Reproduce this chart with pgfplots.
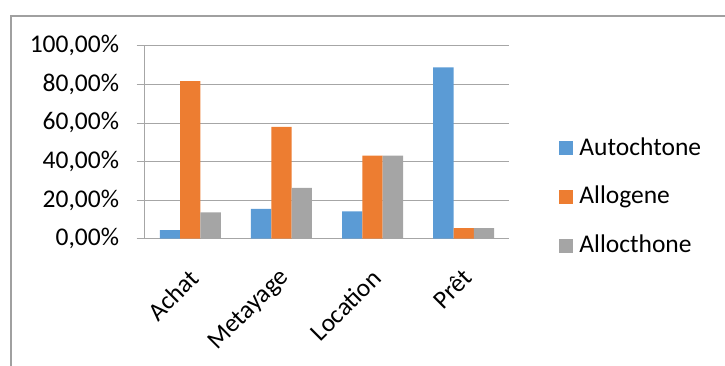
\documentclass[border=0pt]{standalone}
\usepackage{fontspec}
\setmainfont{Carlito}
\usepackage{pgfplots}
\pgfplotsset{compat=1.18}
\definecolor{cBlue}{HTML}{5B9BD5}
\definecolor{cOrange}{HTML}{ED7D31}
\definecolor{cGray}{HTML}{A5A5A5}
\definecolor{gridc}{HTML}{A6A6A6}
\definecolor{framec}{HTML}{A0A0A0}
\begin{document}
\fontsize{25.5}{30}\selectfont
\begin{tikzpicture}[x=1pt,y=1pt]
\useasboundingbox (0,0) rectangle (725,-365);
\draw[framec,line width=1.2pt] (11,-366) -- (11,-16) -- (726,-16);
\begin{axis}[
  at={(144.7pt,-238.7pt)}, anchor=south west,
  scale only axis, width=364.6pt, height=193pt,
  xmin=-0.5, xmax=3.5, ymin=0, ymax=100,
  axis lines*=left,
  axis line style={gridc, line width=0.8pt},
  ytick={0,20,40,60,80,100},
  ymajorgrids, grid style={gridc, line width=0.8pt},
  major tick style={gridc, line width=0.8pt},
  tick align=outside, major tick length=8pt,
  /pgf/number format/assume math mode=true,
  yticklabel={\pgfmathprintnumber[fixed,fixed zerofill,precision=2,use comma]{\tick}\%},
  yticklabel style={font=\fontsize{25.5}{30}\selectfont, xshift=-9pt},
  xtick={0,1,2,3},
  xticklabels={Achat,Metayage,Location,Prêt},
  x tick style={draw=none},
  xticklabel style={font=\fontsize{25.5}{30}\selectfont, xshift=10pt, yshift=-21pt, rotate=45, anchor=east},
  extra x ticks={-0.5,0.5,1.5,2.5,3.5},
  extra x tick labels={},
  extra x tick style={major tick length=8pt, tick style={gridc, line width=0.8pt}, grid=none},
  bar width=0.223,
  legend style={at={(1.137,0.216)}, anchor=west, draw=none, fill=none,
    font=\fontsize{25.5}{30}\selectfont, row sep=23pt, inner sep=0pt,
    nodes={inner sep=2pt}},
  legend cell align=left,
  legend image code/.code={\fill[#1] (0pt,-7pt) rectangle (14pt,7pt);},
]
\addplot[ybar, bar shift=-0.223, fill=cBlue, draw=none] coordinates {(0,4.5) (1,15.5) (2,14.2) (3,88.8)};
\addplot[ybar, bar shift=0, fill=cOrange, draw=none] coordinates {(0,81.7) (1,57.9) (2,43.0) (3,5.5)};
\addplot[ybar, bar shift=0.223, fill=cGray, draw=none] coordinates {(0,13.7) (1,26.3) (2,43.0) (3,5.5)};
\legend{\hspace{4pt}Autochtone,\hspace{4pt}Allogene,\hspace{4pt}Allocthone}
\end{axis}
\end{tikzpicture}
\end{document}
